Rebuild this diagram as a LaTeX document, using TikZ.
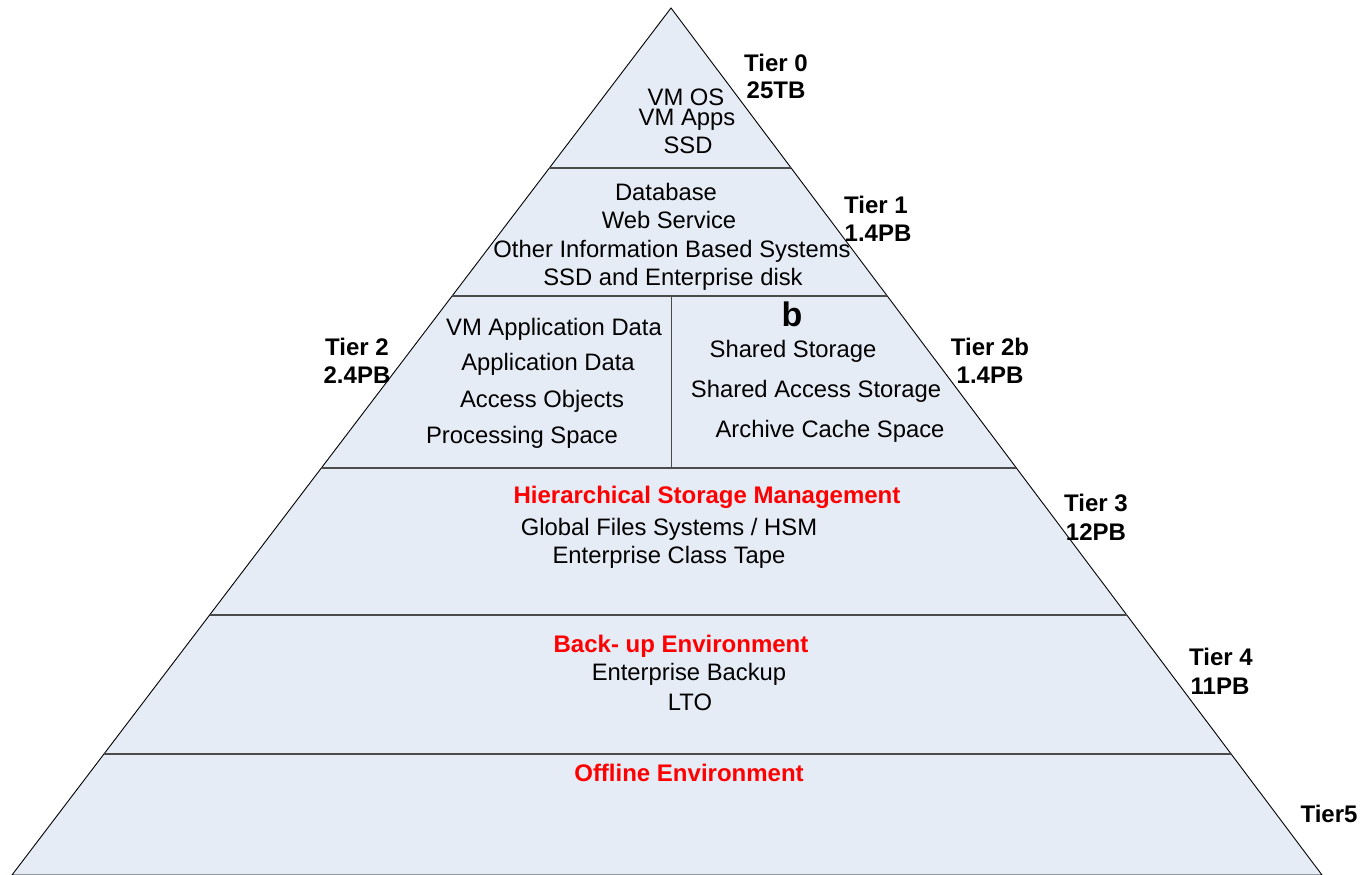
\documentclass[tikz,border=0pt]{standalone}
\usepackage{fontspec}
\setmainfont{Liberation Sans}
\usetikzlibrary{calc}
\definecolor{tierfill}{RGB}{230,236,246}
\definecolor{tierline}{RGB}{75,75,75}
\begin{document}
\begin{tikzpicture}[x=1pt,y=-1pt,
  item/.style={anchor=base,inner sep=0pt,font=\fontsize{23.8}{24}\selectfont},
  head/.style={item,text=red,font=\fontsize{24}{24}\selectfont\bfseries},
  tier/.style={anchor=base,inner sep=0pt,font=\fontsize{24}{24}\selectfont\bfseries},
  divider/.style={tierline,line width=1.4pt}]
\useasboundingbox (0,0) rectangle (1363,875);
\coordinate (apex) at (671,8);
\coordinate (bl) at (12,875);
\coordinate (br) at (1322,875);
\filldraw[fill=tierfill, draw=black, line width=0.9pt] (apex) -- (bl) -- (br) -- cycle;
% borders between the tiers
\foreach \t/\n in {0.1845/A,0.3322/B,0.5306/C,0.7001/D,0.8604/E}
  \draw[divider] ($(apex)!\t!(bl)$) coordinate (l\n) -- ($(apex)!\t!(br)$) coordinate (r\n);
\draw[tierline, line width=1pt] (lB -| apex) -- (lC -| apex);
% tier 0
\node[item] (vmos) at (686,105) {VM OS};
\node[item] (vmapps) at (687,125) {VM Apps};
\node[item] (ssd) at (688,153) {SSD};
% tier 1
\node[item] (db) at (666,200) {Database};
\node[item] (web) at (669,228) {Web Service};
\node[item] (other) at (672,257) {Other Information Based Systems};
\node[item] (disk) at (673,285) {SSD and Enterprise disk};
% tier 2 and 2b
\node[item] (vmdata) at (554,335) {VM Application Data};
\node[item] (appdata) at (548,370) {Application Data};
\node[item] (access) at (542,407) {Access Objects};
\node[item] (proc) at (522,443) {Processing Space};
\node[tier, font=\fontsize{34}{34}\selectfont\bfseries] (bmark) at (792,326) {b};
\node[item] (shared) at (793,357) {Shared Storage};
\node[item] (sharedacc) at (816,397) {Shared Access Storage};
\node[item] (cache) at (830,437) {Archive Cache Space};
% tier 3
\node[head] (hsm) at (707,503) {Hierarchical Storage Management};
\node[item] (gfs) at (669,535) {Global Files Systems / HSM};
\node[item] (tape) at (669,563) {Enterprise Class Tape};
% tier 4
\node[head] (backup) at (681,652) {Back- up Environment};
\node[item] (entbackup) at (689,680) {Enterprise Backup};
\node[item] (lto) at (690,710) {LTO};
% tier 5
\node[head] (offline) at (689,781) {Offline Environment};
% tier labels
\node[tier] (t0) at (776,72) {Tier 0};
\node[tier] (t0s) at (776,99) {25TB};
\node[tier] (t1) at (876,213) {Tier 1};
\node[tier] (t1s) at (878,241) {1.4PB};
\node[tier] (t2) at (357,355) {Tier 2};
\node[tier] (t2s) at (357,383) {2.4PB};
\node[tier] (t2b) at (990,355) {Tier 2b};
\node[tier] (t2bs) at (990,383) {1.4PB};
\node[tier] (t3) at (1096,511) {Tier 3};
\node[tier] (t3s) at (1096,540) {12PB};
\node[tier] (t4) at (1221,665) {Tier 4};
\node[tier] (t4s) at (1220,694) {11PB};
\node[tier] (t5) at (1329,822) {Tier5};
\end{tikzpicture}
\end{document}
